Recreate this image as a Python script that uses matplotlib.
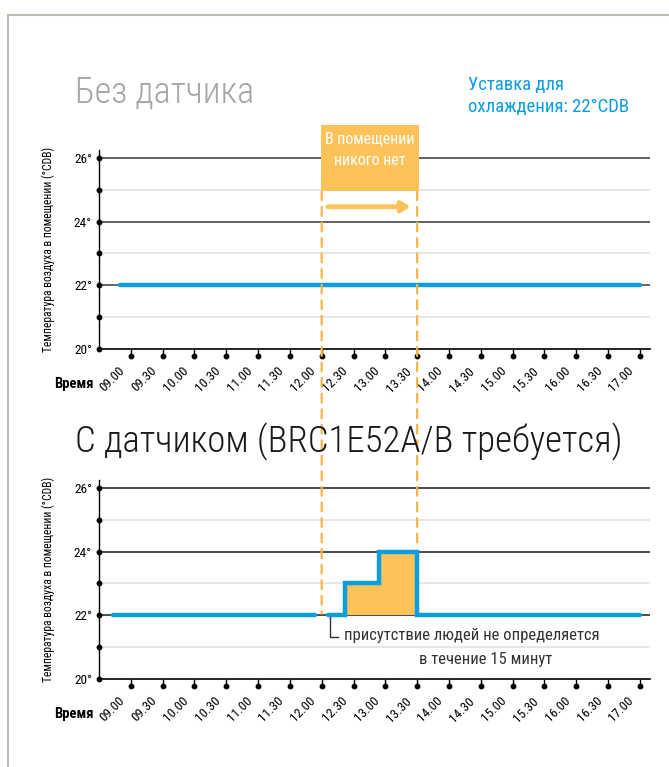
import numpy as np
import matplotlib
matplotlib.use("Agg")
import matplotlib.pyplot as plt
from matplotlib import font_manager
from matplotlib.patches import Rectangle, ConnectionPatch
from matplotlib.lines import Line2D
from matplotlib.transforms import blended_transform_factory, ScaledTranslation

# pick a narrow font if we have one
names = {f.name for f in font_manager.fontManager.ttflist}
font = "Roboto"
for cand in ["Roboto Condensed", "Liberation Sans Narrow", "Roboto"]:
    if cand in names:
        font = cand
        break
plt.rcParams["font.family"] = [font, "DejaVu Sans"]

# data
time_labels = ["09.00", "09.30", "10.00", "10.30", "11.00", "11.30", "12.00", "12.30",
               "13.00", "13.30", "14.00", "14.30", "15.00", "15.30", "16.00", "16.30", "17.00"]
temp_labels = [20, 22, 24, 26]
temp_dots = [20, 21, 22, 23, 24, 25, 26]

# without sensor: flat at setpoint
nosens_t = [8.83, 17.0]
nosens_v = [22, 22]

# with sensor
sens1_t = [8.72, 11.9]
sens1_v = [22, 22]
sens2_t = [12.1, 12.37, 12.9, 13.5, 17.0]
sens2_v = [22, 23, 24, 22, 22]

absent_start, absent_end = 12.0, 13.5

BLUE = "#0a9ee0"
ORANGE = "#fdc35a"
DASH = "#f9b545"

hours = [int(s[:2]) + int(s[3:]) / 60 for s in time_labels]

W, H = 669, 767
fig = plt.figure(figsize=(W / 100, H / 100), dpi=100)

def px_axes(x0, y0, x1, y1):
    return fig.add_axes([x0 / W, 1 - y1 / H, (x1 - x0) / W, (y1 - y0) / H])

ax1 = px_axes(99, 150, 650, 349)
ax2 = px_axes(99, 480, 650, 679)

for ax in (ax1, ax2):
    ax.set_xlim(8.5, 17.16)
    ax.set_ylim(20, 26.25)
    for s in ["top", "right"]:
        ax.spines[s].set_visible(False)
    ax.spines["left"].set_linewidth(1.0)
    ax.spines["bottom"].set_linewidth(1.2)
    # grid lines
    for v in [21, 23, 25]:
        ax.axhline(v, color="#e4e4e4", lw=1.3, zorder=1)
    ax.set_yticks(temp_labels, [f"{v}°" for v in temp_labels])
    ax.tick_params(axis="y", length=0, pad=5, labelsize=9.5)
    ax.plot([8.5] * len(temp_dots), temp_dots, "o", color="black", ms=3.2, clip_on=False, zorder=5)
    ax.set_xticks(hours, [""] * len(hours))
    ax.tick_params(axis="x", length=5, width=1, direction="out")
    # rotated time labels
    lab_tr = blended_transform_factory(ax.transData, ax.transAxes) + \
        ScaledTranslation(-8 / 100, -20 / 100, fig.dpi_scale_trans)
    for h, s in zip(hours, time_labels):
        ax.text(h, 0, s, transform=lab_tr, rotation=45, rotation_mode="anchor",
                ha="right", va="center", fontsize=9.5, clip_on=False)
    tr = blended_transform_factory(ax.transData, ax.transAxes) + ScaledTranslation(0, -7 / 100, fig.dpi_scale_trans)
    ax.plot(hours, [0] * len(hours), "o", color="black", ms=3.2, transform=tr, clip_on=False)
    ax.set_ylabel("Температура воздуха в помещении (°CDB)", fontsize=8.4)
    ax.yaxis.set_label_coords(-0.08, 0.5)
    ax.annotate("Время", xy=(0, 0), xycoords="axes fraction", xytext=(-4, -25),
                textcoords="offset points", ha="right", va="center", fontsize=10.5, fontweight="bold")

# main horizontals
for v in [22, 24, 26]:
    ax1.axhline(v, color="#555555", lw=1.3, zorder=1)
    ax2.axhline(v, color="#1a1a1a", lw=1.1, zorder=1)

# top chart: constant setpoint
ax1.plot(nosens_t, nosens_v, color=BLUE, lw=3.2, solid_capstyle="round", zorder=4)

# bottom chart
ax2.fill_between(sens2_t, 22, sens2_v, step="post", color=ORANGE, lw=0, zorder=2)
ax2.plot(sens1_t, sens1_v, color=BLUE, lw=3.2, solid_capstyle="round", zorder=4)
ax2.plot(sens2_t, sens2_v, color=BLUE, lw=3.2, drawstyle="steps-post",
         solid_capstyle="round", solid_joinstyle="miter", zorder=4)

# orange box "nobody in the room"
btr = blended_transform_factory(ax1.transData, ax1.transAxes)
ax1.add_patch(Rectangle((absent_start - 0.015, 0.794), absent_end - absent_start + 0.04, 0.33,
                        transform=btr, color=ORANGE, clip_on=False, zorder=6, lw=0))
ax1.text((absent_start + absent_end) / 2 + 0.01, 1.0, "В помещении\nникого нет", transform=btr,
         ha="center", va="center", color="white", fontsize=11.5, linespacing=1.5, zorder=7)
ax1.annotate("", xy=(absent_end - 0.1, 0.715), xytext=(absent_start + 0.1, 0.715),
             xycoords=btr, textcoords=btr,
             arrowprops=dict(arrowstyle="-|>,head_length=0.5,head_width=0.3", color=ORANGE, lw=3.5,
                             shrinkA=0, shrinkB=0))

# dashed guide lines running through both charts
for x, yend in [(absent_start, 22.05), (absent_end, 24.1)]:
    con = ConnectionPatch(xyA=(x, 24.95), coordsA=ax1.transData, xyB=(x, yend), coordsB=ax2.transData,
                          color=DASH, lw=1.6, linestyle=(0, (4, 3)), zorder=3)
    fig.add_artist(con)

# bracket annotation in bottom chart
ax2.plot([12.13, 12.13, 12.26], [21.95, 21.32, 21.32], color="#333333", lw=1.0, zorder=5)
ax2.text(12.35, 21.36, "присутствие людей не определяется", ha="left", va="center",
         fontsize=12, color="#333333")
ax2.text(14.57, 20.6, "в течение 15 минут", ha="center", va="center", fontsize=12, color="#333333")

# titles
fig.text(75 / W, 1 - 93 / H, "Без датчика", fontsize=26, fontweight="light", color="#a6a6a6",
         va="center", ha="left")
fig.text(75 / W, 1 - 442 / H, "С датчиком (BRC1E52A/B требуется)", fontsize=26.5, fontweight="light",
         color="#1a1a1a", va="center", ha="left")
fig.text(468 / W, 1 - 96 / H, "Уставка для\nохлаждения: 22°CDB", fontsize=13.5, color=BLUE,
         va="center", ha="left", linespacing=1.35)

# page frame
fig.add_artist(Line2D([8 / W, 1], [1 - 15 / H, 1 - 15 / H], color="#bdbdb5", lw=1.5))
fig.add_artist(Line2D([8 / W, 8 / W], [1 - 15 / H, 0], color="#bdbdb5", lw=1.5))

fig.savefig("out.png", dpi=100)
